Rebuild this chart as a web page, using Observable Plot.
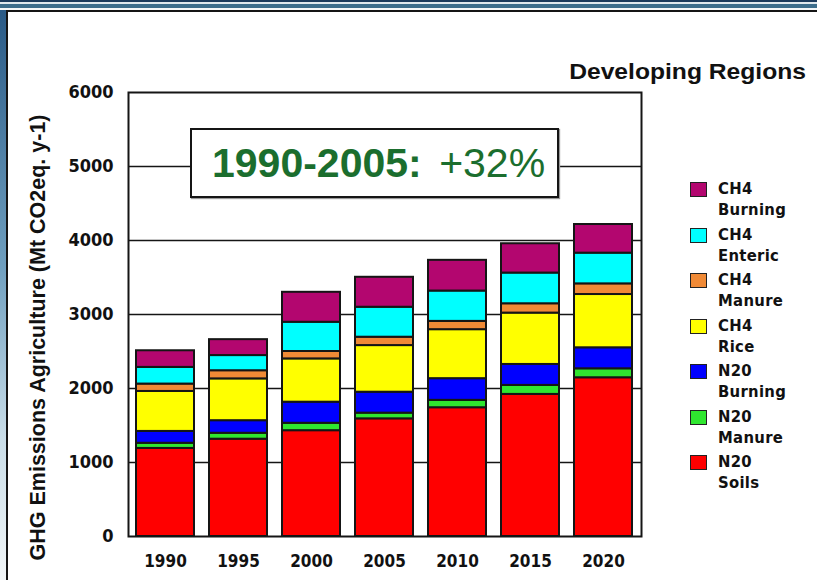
<!DOCTYPE html>
<html>
<head>
<meta charset="utf-8">
<script src="https://cdn.jsdelivr.net/npm/d3@7"></script>
<script src="https://cdn.jsdelivr.net/npm/@observablehq/plot@0.6"></script>
<style>
  html, body { margin: 0; padding: 0; background: #fff; }
  #page { position: relative; width: 817px; height: 580px; overflow: hidden; background: #fff; }
  #topbar { position: absolute; left: 0; top: 0; width: 817px; height: 10px;
    background: linear-gradient(to bottom, #1b3a5c 0px, #1b3a5c 2px, #dfe8ee 2px, #dfe8ee 4px, #3c6d8c 4px, #3c6d8c 8px, #f4f7f9 8px, #f4f7f9 10px); }
  #leftbar { position: absolute; left: 0; top: 10px; width: 6px; height: 570px;
    background: linear-gradient(to bottom, #2a5a86 0%, #6f9fbf 45%, #c9dde8 75%, #f2f6f8 100%); }
  #panel { position: absolute; left: 6px; top: 10px; width: 830px; height: 600px;
    border-top: 2px solid #151515; border-left: 2px solid #151515; background: #fff; }
  #chart { position: absolute; left: 0; top: 0; }
  #title { position: absolute; left: 540px; top: 59px; width: 266px; text-align: right;
    font-family: "Liberation Sans", Arial, sans-serif; font-weight: bold; font-size: 22px; color: #111;
    transform-origin: right center; transform: scaleX(1.12); }
  #note { position: absolute; left: 190px; top: 128px; width: 345px; height: 66px;
    border: 2px solid #151515; background: #fff; box-shadow: 1px 1px 1px #999;
    font-family: "Liberation Sans", Arial, sans-serif; font-size: 41px; color: #1b6e2e;
    line-height: 66px; padding-left: 20px; box-sizing: content-box; white-space: nowrap; word-spacing: 6px; }
  #note b { font-weight: bold; }
  #legend { position: absolute; left: 690px; top: 182px; }
  .item { position: absolute; left: 0; width: 120px; height: 45px; }
  .sw { position: absolute; left: 0; top: 0; width: 15px; height: 13px; border: 1px solid #222; }
  .lab { position: absolute; left: 28px; top: -4px; font-family: "DejaVu Sans Condensed", "DejaVu Sans", sans-serif;
    font-stretch: condensed; font-weight: bold; font-size: 16.5px; line-height: 21px; color: #111; letter-spacing: 0.3px; }
</style>
</head>
<body>
<div id="page">
  <div id="topbar"></div>
  <div id="leftbar"></div>
  <div id="panel"></div>
  <div id="chart"></div>
  <div id="title"></div>
  <div id="note"></div>
  <div id="legend"></div>
</div>
<script>
// ---- data ----
const years = ["1990", "1995", "2000", "2005", "2010", "2015", "2020"];
// stacking order, bottom to top
const components = ["N20 Soils", "N20 Manure", "N20 Burning", "CH4 Rice", "CH4 Manure", "CH4 Enteric", "CH4 Burning"];
const n2oSoils   = [1190, 1315, 1430, 1590, 1740, 1920, 2145];
const n2oManure  = [70, 80, 100, 77, 100, 122, 121];
const n2oBurning = [160, 170, 285, 283, 293, 283, 284];
const ch4Rice    = [540, 565, 585, 630, 662, 694, 720];
const ch4Manure  = [100, 110, 100, 113, 112, 126, 144];
const ch4Enteric = [225, 205, 395, 405, 410, 415, 415];
const ch4Burning = [225, 215, 405, 405, 415, 396, 387];
const colors = ["#ff0000", "#2fe62f", "#0000ff", "#ffff00", "#f08a36", "#00ffff", "#b3066f"];
const yTicks = [0, 1000, 2000, 3000, 4000, 5000, 6000];
const gridValues = [1000, 2000, 3000, 4000, 5000];
const yLabel = "GHG Emissions Agriculture (Mt CO2eq. y-1)";
const titleText = "Developing Regions";
const noteBold = "1990-2005:";
const noteRest = "+32%";

const series = [n2oSoils, n2oManure, n2oBurning, ch4Rice, ch4Manure, ch4Enteric, ch4Burning];
const data = [];
components.forEach((c, ci) => years.forEach((yr, i) => data.push({year: yr, component: c, value: series[ci][i]})));

const tickFont = '"DejaVu Sans Condensed", "DejaVu Sans", sans-serif';

const chart = Plot.plot({
  width: 817,
  height: 580,
  marginLeft: 128,
  marginRight: 176,
  marginTop: 92,
  marginBottom: 44,
  style: {background: "transparent", fontFamily: tickFont, fontSize: "17px", fontWeight: "bold", color: "#111", fontStretch: "condensed"},
  x: {domain: years, paddingInner: 0.2, paddingOuter: 0.08, axis: null},
  y: {domain: [0, 6000], axis: null},
  color: {domain: components, range: colors},
  marks: [
    Plot.ruleY(gridValues, {stroke: "#151515", strokeWidth: 1.6}),
    Plot.barY(data, {x: "year", y: "value", fill: "component", stroke: "#151515", strokeWidth: 2}),
    Plot.frame({stroke: "#151515", strokeWidth: 2}),
    Plot.axisY(yTicks, {tickSize: 0, tickPadding: 15, label: null, fill: "#111", tickFormat: d => String(d), fontSize: 18}),
    Plot.axisX({tickSize: 0, tickPadding: 18, label: null, fill: "#111"}),
    Plot.text([yLabel], {frameAnchor: "left", textAnchor: "middle", rotate: -90, dx: -90, dy: 23,
      fontFamily: '"Liberation Sans", Arial, sans-serif', fontSize: 21.5, fontWeight: "bold", fill: "#111"})
  ]
});
document.getElementById("chart").appendChild(chart);

document.getElementById("title").textContent = titleText;
const note = document.getElementById("note");
const b = document.createElement("b"); b.textContent = noteBold;
note.appendChild(b);
note.appendChild(document.createTextNode(" " + noteRest));

// legend: top to bottom is reverse of stacking order
const legend = document.getElementById("legend");
components.slice().reverse().forEach((c, i) => {
  const ci = components.indexOf(c);
  const item = document.createElement("div");
  item.className = "item";
  item.style.top = (i * 45.5) + "px";
  const sw = document.createElement("div");
  sw.className = "sw"; sw.style.background = colors[ci];
  const lab = document.createElement("div");
  lab.className = "lab";
  const parts = c.split(" ");
  lab.appendChild(document.createTextNode(parts[0]));
  lab.appendChild(document.createElement("br"));
  lab.appendChild(document.createTextNode(parts[1]));
  item.appendChild(sw); item.appendChild(lab);
  legend.appendChild(item);
});
</script>
</body>
</html>
